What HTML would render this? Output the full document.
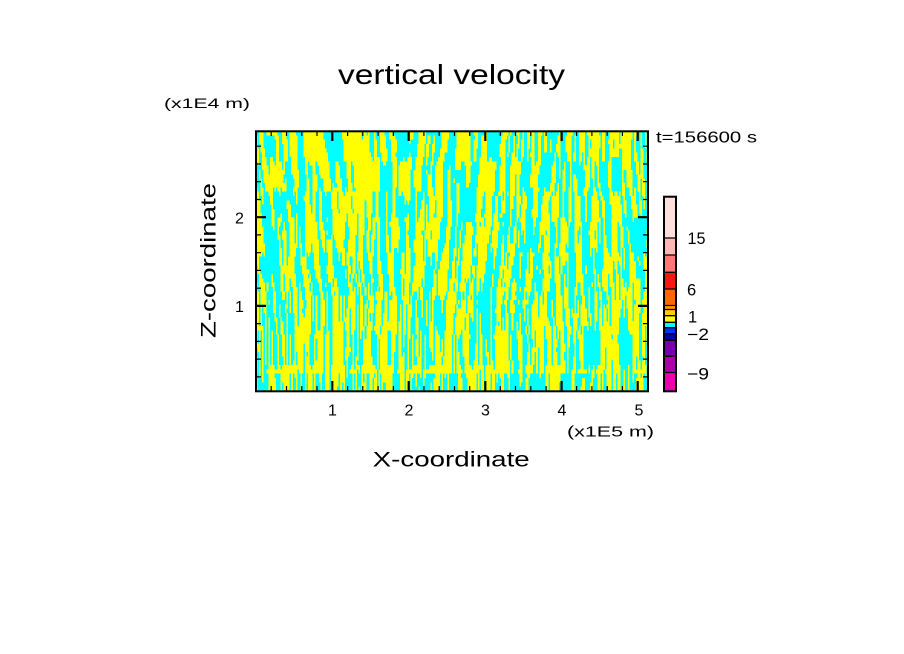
<!DOCTYPE html>
<html><head><meta charset="utf-8">
<style>
html,body{margin:0;padding:0;background:#fff;}
#wrap{position:relative;width:904px;height:654px;overflow:hidden;background:#fff;}
#cv{position:absolute;left:256px;top:131px;width:392px;height:260px;image-rendering:pixelated;background:repeating-linear-gradient(90deg,#ff0 0 3px,#0ff 3px 6px);}
svg{position:absolute;left:0;top:0;}
text{font-family:"Liberation Sans",sans-serif;fill:#000;}
</style></head>
<body><div id="wrap">
<canvas id="cv" width="256" height="60"></canvas>
<svg width="904" height="654" viewBox="0 0 904 654" xmlns="http://www.w3.org/2000/svg">
<rect x="256" y="131.3" width="392" height="260" fill="none" stroke="#000" stroke-width="2"/>
<path fill="none" stroke="#000" stroke-width="1.2" d="M271.2 391V386M286.5 391V386M301.8 391V386M317 391V386M347.6 391V386M362.8 391V386M378.1 391V386M393.4 391V386M423.9 391V386M439.2 391V386M454.5 391V386M469.7 391V386M500.3 391V386M515.5 391V386M530.8 391V386M546.1 391V386M576.6 391V386M591.9 391V386M607.2 391V386M622.4 391V386
M271.2 131V136M286.5 131V136M301.8 131V136M317 131V136M347.6 131V136M362.8 131V136M378.1 131V136M393.4 131V136M423.9 131V136M439.2 131V136M454.5 131V136M469.7 131V136M500.3 131V136M515.5 131V136M530.8 131V136M546.1 131V136M576.6 131V136M591.9 131V136M607.2 131V136M622.4 131V136
M256 376.9H261M256 359.1H261M256 341.4H261M256 323.6H261M256 288.2H261M256 270.4H261M256 252.7H261M256 234.9H261M256 199.5H261M256 181.7H261M256 164H261M256 146.2H261
M648 376.9H643M648 359.1H643M648 341.4H643M648 323.6H643M648 288.2H643M648 270.4H643M648 252.7H643M648 234.9H643M648 199.5H643M648 181.7H643M648 164H643M648 146.2H643"/>
<path fill="none" stroke="#000" stroke-width="2.2" d="M332.3 391V381M408.7 391V381M485.3 391V381M561.6 391V381M637.7 391V381
M332.3 131V141M408.7 131V141M485.3 131V141M561.6 131V141M637.7 131V141
M256 305.9H266M256 217.2H266M648 305.9H638M648 217.2H638"/>

<text x="338" y="84" font-size="28" textLength="227" lengthAdjust="spacingAndGlyphs">vertical velocity</text>
<text x="164" y="108" font-size="14" textLength="86" lengthAdjust="spacingAndGlyphs">(x1E4 m)</text>
<text x="656" y="142.5" font-size="16" textLength="101" lengthAdjust="spacingAndGlyphs">t=156600 s</text>
<text x="567" y="436.7" font-size="15" textLength="87" lengthAdjust="spacingAndGlyphs">(x1E5 m)</text>
<text x="372.7" y="466.7" font-size="21" textLength="157" lengthAdjust="spacingAndGlyphs">X-coordinate</text>
<text transform="translate(215.5,338) rotate(-90)" x="0" y="0" font-size="21" textLength="155" lengthAdjust="spacingAndGlyphs">Z-coordinate</text>

<g font-size="16" text-anchor="middle">
<text x="332.5" y="415.5">1</text>
<text x="409" y="415.5">2</text>
<text x="485.5" y="415.5">3</text>
<text x="562" y="415.5">4</text>
<text x="639" y="415.5">5</text>
<text x="239.5" y="223.3">2</text>
<text x="239.5" y="311.8">1</text>
</g>

<g>
<rect x="664" y="196.7" width="12" height="41.3" fill="#FFDEDE"/>
<rect x="664" y="238" width="12" height="17" fill="#FFB6B6"/>
<rect x="664" y="255" width="12" height="17.3" fill="#FF7878"/>
<rect x="664" y="272.3" width="12" height="16.7" fill="#FF1414"/>
<rect x="664" y="289" width="12" height="16.5" fill="#FF6600"/>
<rect x="664" y="305.5" width="12" height="4" fill="#FF9900"/>
<rect x="664" y="309.5" width="12" height="6.2" fill="#FFCC00"/>
<rect x="664" y="315.7" width="12" height="6.6" fill="#FFFF00"/>
<rect x="664" y="322.3" width="12" height="5.4" fill="#00FFFF"/>
<rect x="664" y="327.7" width="12" height="6" fill="#0033FF"/>
<rect x="664" y="333.7" width="12" height="6.6" fill="#0000AA"/>
<rect x="664" y="340.3" width="12" height="15.9" fill="#7700AA"/>
<rect x="664" y="356.2" width="12" height="16.3" fill="#AA00AA"/>
<rect x="664" y="372.5" width="12" height="18.8" fill="#EE00AA"/>
<path fill="none" stroke="#000" stroke-width="1.3" d="M664 238H676M664 255H676M664 272.3H676M664 289H676M664 305.5H676M664 309.5H676M664 315.7H676M664 322.3H676M664 327.7H676M664 333.7H676M664 340.3H676M664 356.2H676M664 372.5H676"/>
<rect x="664" y="196.7" width="12" height="194.6" fill="none" stroke="#000" stroke-width="2"/>
</g>
<g font-size="16.5">
<text x="687.5" y="244" textLength="18" lengthAdjust="spacingAndGlyphs">15</text>
<text x="687" y="295.5">6</text>
<text x="688" y="322.5">1</text>
<text x="687" y="340" textLength="22" lengthAdjust="spacingAndGlyphs">−2</text>
<text x="687" y="379.5" textLength="22" lengthAdjust="spacingAndGlyphs">−9</text>
</g>
</svg>
</div>
<script>
(function(){
var cv=document.getElementById('cv');var ctx=cv.getContext('2d');
var W=256,H=60;
var s=246813579;
function R(){s^=s<<13;s^=s>>>17;s^=s<<5;return ((s>>>0)%100000)/100000;}
var LW=1024,LH=128,lat=new Float32Array(LW*LH);
for(var k=0;k<LW*LH;k++)lat[k]=R()*2-1;
function g(a,b){a=((a%LW)+LW)%LW;b=((b%LH)+LH)%LH;return lat[b*LW+a];}
function n2(x,y){var xi=Math.floor(x),yi=Math.floor(y),fx=x-xi,fy=y-yi;fx=fx*fx*(3-2*fx);fy=fy*fy*(3-2*fy);
var a=g(xi,yi),b=g(xi+1,yi),c=g(xi,yi+1),d=g(xi+1,yi+1);return a+(b-a)*fx+(c-a)*fy+(a-b-c+d)*fx*fy;}
var img=ctx.createImageData(W,H);
for(var r=0;r<H;r++){
 var j=H-1-r;var h=j/(H-1);
 var sh=Math.max(0,j-20);
 for(var i=0;i<W;i++){
  var xw=i+sh*(0.22*Math.sin(i/40+1)+0.05*Math.sin(i/7+2))+1.2*n2(i/15+300,j/10+7);
  var nf=n2(xw/1.0+0.5,j/9);
  var nc=n2(xw/1.8+100,j/7+20);
  var nd=n2(xw/0.7+400,j/3+50);
  var v=(1-h)*nf+h*nc+0.2*nd;
  if(j==4)v+=0.3;
  if(j==5)v+=0.2;
  if(j<4)v-=0.05;
  var yel=v>0.0;
  var p=(r*W+i)*4;
  img.data[p]=yel?255:0;img.data[p+1]=255;img.data[p+2]=yel?0:255;img.data[p+3]=255;
 }
}
ctx.putImageData(img,0,0);
})();
</script>
</body></html>
